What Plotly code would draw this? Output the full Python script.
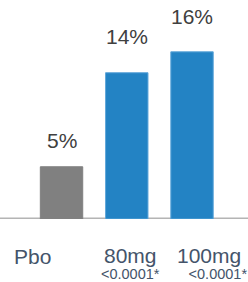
import plotly.graph_objects as go

categories = ["Pbo", "80mg", "100mg"]
values = [5, 14, 16]
value_labels = ["5%", "14%", "16%"]
p_values = ["", "<0.0001*", "<0.0001*"]
bar_colors = ["#808080", "#2383C4", "#2383C4"]
edge_colors = ["#808080", "#5FA6D9", "#5FA6D9"]

label_yshift = [26, 36, 35]

fig = go.Figure()
fig.add_trace(go.Bar(
    x=list(range(len(categories))), y=values,
    marker=dict(color=bar_colors, line=dict(color=edge_colors, width=1)),
    width=0.65, hoverinfo="skip",
))

FONT = "Liberation Sans, Arial"
annotations = []
for i, (v, t) in enumerate(zip(values, value_labels)):
    annotations.append(dict(x=i, y=v, xref="x", yref="y", text=t, showarrow=False,
                            yanchor="middle", yshift=label_yshift[i],
                            font=dict(family=FONT, size=21, color="#404040")))

# Pbo (no p-value)
annotations.append(dict(x=0, y=0, xref="x", yref="y", text=categories[0], showarrow=False,
                        yanchor="middle", yshift=-37, xshift=-29,
                        font=dict(family=FONT, size=21, color="#44546A")))
# 80mg with p-value
annotations.append(dict(x=1, y=0, xref="x", yref="y", showarrow=False,
                        text=f"<span style='font-size:21px'>{categories[1]}</span><br>"
                             f"<span style='font-size:14.5px'>{p_values[1]}</span>",
                        yanchor="top", yshift=-23, xshift=4, align="center",
                        font=dict(family=FONT, size=12, color="#44546A")))
# 100mg with p-value
annotations.append(dict(x=2, y=0, xref="x", yref="y", showarrow=False,
                        text=f"<span style='font-size:21px'>{categories[2]}&nbsp;</span><br>"
                             f"<span style='font-size:14.5px'>{p_values[2]}</span>",
                        yanchor="top", yshift=-23, xanchor="right", xshift=57, align="right",
                        font=dict(family=FONT, size=12, color="#44546A")))

fig.update_layout(
    width=248, height=282,
    margin=dict(l=0, r=0, t=0, b=63),
    paper_bgcolor="white", plot_bgcolor="white",
    showlegend=False,
    xaxis=dict(range=[-0.943, 2.858], visible=False),
    yaxis=dict(range=[0, 20.96], visible=False),
    annotations=annotations,
    shapes=[dict(type="line", xref="paper", yref="y", x0=0, x1=1, y0=0, y1=0,
                 line=dict(color="#B4B4B4", width=3), layer="below")],
)

fig.write_html("out.html", config={"displayModeBar": False})

with open("out.html", "r", encoding="utf-8") as f:
    html = f.read()
html = html.replace("<head>", "<head><style>html,body{margin:0;padding:0;overflow:hidden;}</style>", 1)
with open("out.html", "w", encoding="utf-8") as f:
    f.write(html)
